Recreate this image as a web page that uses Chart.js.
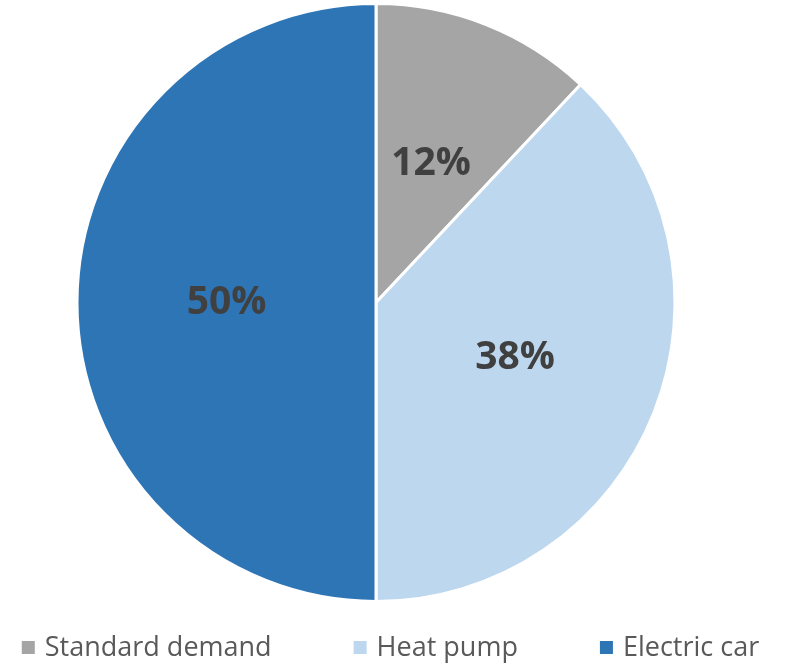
<!DOCTYPE html>
<html>
<head>
<meta charset="utf-8">
<script src="https://cdn.jsdelivr.net/npm/chart.js@4/dist/chart.umd.min.js"></script>
<style>
  html, body { margin: 0; padding: 0; background: #ffffff; }
  #wrap { width: 785px; height: 666px; }
</style>
</head>
<body>
<div id="wrap"><canvas id="c" width="785" height="666"></canvas></div>
<script>
const categories = ["Standard demand", "Heat pump", "Electric car"];
const shares = [12, 38, 50];
const sliceColors = ["#A5A5A5", "#BDD7EE", "#2E75B6"];

const labelPlugin = {
  id: 'sliceLabels',
  afterDatasetsDraw(chart) {
    const ctx = chart.ctx;
    const meta = chart.getDatasetMeta(0);
    ctx.save();
    ctx.font = 'bold 39px "Open Sans"';
    ctx.fillStyle = '#404040';
    ctx.textAlign = 'center';
    ctx.textBaseline = 'middle';
    meta.data.forEach((arc, i) => {
      const p = arc.getProps(['startAngle', 'endAngle', 'outerRadius', 'x', 'y'], true);
      const mid = (p.startAngle + p.endAngle) / 2;
      const r = p.outerRadius * 0.5;
      ctx.fillText(shares[i] + '%', p.x + Math.cos(mid) * r, p.y + Math.sin(mid) * r);
    });
    ctx.restore();
  }
};

const legendPlugin = {
  id: 'bottomLegend',
  afterDraw(chart) {
    const ctx = chart.ctx;
    ctx.save();
    ctx.font = '27px "Open Sans"';
    ctx.textBaseline = 'middle';
    ctx.textAlign = 'left';
    const box = 13, gapText = 10, gapItem = 82;
    const widths = categories.map(c => box + gapText + ctx.measureText(c).width);
    const total = widths.reduce((a, b) => a + b, 0) + gapItem * (categories.length - 1);
    let x = (chart.width - total) / 2 - 2;
    const yMid = 647;
    categories.forEach((c, i) => {
      ctx.fillStyle = sliceColors[i];
      ctx.fillRect(x, yMid - 6, box, box);
      ctx.fillStyle = '#595959';
      ctx.fillText(c, x + box + gapText, yMid + 1);
      x += widths[i] + gapItem;
    });
    ctx.restore();
  }
};

new Chart(document.getElementById('c'), {
  type: 'pie',
  data: {
    labels: categories,
    datasets: [{
      data: shares,
      backgroundColor: sliceColors,
      borderColor: '#ffffff',
      borderWidth: 3
    }]
  },
  options: {
    responsive: false,
    animation: false,
    layout: { padding: { top: 2, right: 33, bottom: 63, left: 0 } },
    plugins: {
      tooltip: { enabled: false },
      legend: { display: false }
    }
  },
  plugins: [labelPlugin, legendPlugin]
});
</script>
</body>
</html>
